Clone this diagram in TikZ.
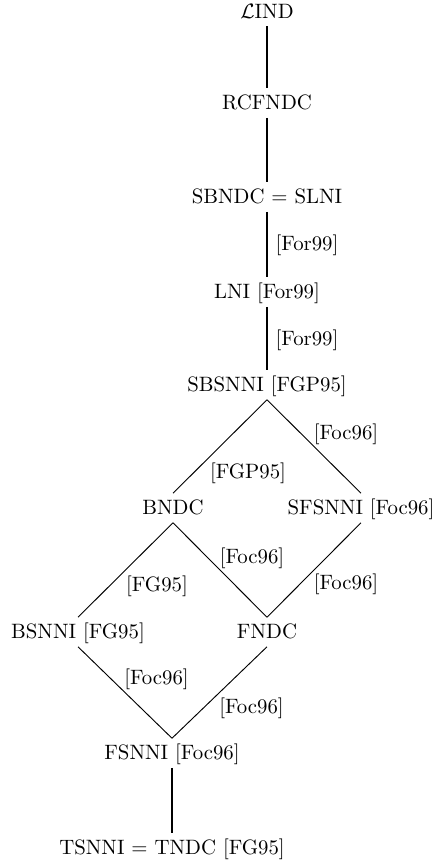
\documentclass[tikz,border=0pt]{standalone}
\begin{document}
\begin{tikzpicture}[x=0.48077pt, y=-0.48077pt,
  lat/.style={inner sep=2pt, text height=8pt, text depth=1.8pt},
  lbl/.style={inner sep=0pt, text height=8pt, text depth=1.8pt},
  vline/.style={line width=0.9pt},
  dline/.style={line width=0.45pt}]
\useasboundingbox (0,0) rectangle (434,865);

% lattice elements
\node[lat, text height=7pt, text depth=0pt, inner sep=1pt] (lind) at (267,11.5) {$\mathcal{L}$IND};
\node[lat] (rcfndc) at (267,103) {RCFNDC};
\node[lat] (sbndc)  at (267,197) {SBNDC $=$ SLNI};
\node[lat] (lni)    at (267,292) {LNI [For99]};
\node[lat] (sbsnni) at (267,385) {SBSNNI [FGP95]};
\node[lat] (bndc)   at (173,508) {BNDC};
\node[lat] (sfsnni) at (361,508) {SFSNNI [Foc96]};
\node[lat] (bsnni)  at (78,632)  {BSNNI [FG95]};
\node[lat] (fndc)   at (267,632) {FNDC};
\node[lat] (fsnni)  at (172,753) {FSNNI [Foc96]};
\node[lat] (tsnni)  at (172,848) {TSNNI $=$ TNDC [FG95]};

% vertical chain
\draw[vline] (lind.south) ++(0,5) coordinate (lindfoot) (lindfoot) -- (rcfndc.north);
\draw[vline] (rcfndc.south) -- (sbndc.north);
\draw[vline] (sbndc.south) -- node[lbl, shift={(40,0)}] (e1) {[For99]} (lni.north);
\draw[vline] (lni.south) -- node[lbl, shift={(40,1)}] (e2) {[For99]} (sbsnni.north);

% diamonds
\draw[dline] (sbsnni.south) -- node[lbl, shift={(28,25.5)}] (e3) {[FGP95]} (bndc.north);
\draw[dline] (sbsnni.south) -- node[lbl, shift={(32,-13.5)}] (e4) {[Foc96]} (sfsnni.north);
\draw[dline] (bndc.south) -- node[lbl, shift={(31.5,15)}] (e5) {[FG95]} (bsnni.north);
\draw[dline] (bndc.south) -- node[lbl, shift={(32,-13)}] (e6) {[Foc96]} (fndc.north);
\draw[dline] (sfsnni.south) -- node[lbl, shift={(32,13)}] (e7) {[Foc96]} (fndc.north);
\draw[dline] (bsnni.south) -- node[lbl, shift={(31.5,-14.5)}] (e8) {[Foc96]} (fsnni.north);
\draw[dline] (fndc.south) -- node[lbl, shift={(32,14.5)}] (e9) {[Foc96]} (fsnni.north);

% bottom
\draw[vline] (fsnni.south) -- (tsnni.north);
\end{tikzpicture}
\end{document}
